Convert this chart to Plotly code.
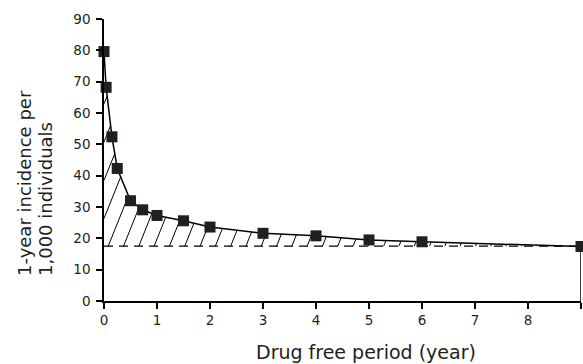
import numpy as np
import plotly.graph_objects as go

# Data
years = [0, 0.04, 0.15, 0.25, 0.5, 0.73, 1.0, 1.5, 2.0, 3.0, 4.0, 5.0, 6.0, 9.0]
incidence = [79.6, 68.2, 52.4, 42.3, 32.0, 29.1, 27.3, 25.6, 23.6, 21.6, 20.8, 19.5, 18.9, 17.4]
baseline_value = 17.5
x_ticks = [0, 1, 2, 3, 4, 5, 6, 7, 8, 9]
y_ticks = [0, 10, 20, 30, 40, 50, 60, 70, 80, 90]
x_title = "Drug free period (year)"
y_title_lines = ["1-year incidence per", "1,000 individuals"]

W, H = 583, 364
PLOT_L, PLOT_R, PLOT_T, PLOT_B = 104, 581, 19, 301   # plot area, pixels
ML, MT = PLOT_L, PLOT_T
MR = W - PLOT_R
MB = H - PLOT_B
pw, ph = W - ML - MR, H - MT - MB
px_per_x = pw / 9.0
px_per_y = ph / 90.0

# Hatch lines between curve and baseline (decoration derived from data)
slope_px = 2.5
k = slope_px * px_per_x / px_per_y
spacing = 15.3 / px_per_x
phase = 0.08
hx, hy = [], []
x0 = phase - spacing * 10
while x0 < 9:
    xs_start = max(x0, 0.0)
    ys_start = baseline_value + k * (xs_start - x0)
    if ys_start < np.interp(xs_start, years, incidence):
        xs = np.linspace(xs_start, min(9.0, xs_start + 90.0 / k), 3000)
        yl = baseline_value + k * (xs - x0)
        yc = np.interp(xs, years, incidence)
        idx = np.argmax(yl >= yc)
        if yl[idx] >= yc[idx]:
            hx += [xs_start, xs[idx], None]
            hy += [ys_start, yc[idx], None]
    x0 += spacing

fig = go.Figure()
fig.add_trace(go.Scatter(x=hx, y=hy, mode="lines",
                         line=dict(color="black", width=1), hoverinfo="skip",
                         showlegend=False, cliponaxis=False))
fig.add_trace(go.Scatter(x=[0, 9], y=[baseline_value, baseline_value], mode="lines",
                         line=dict(color="black", width=1.2, dash="9px,6px"),
                         showlegend=False, cliponaxis=False))
fig.add_trace(go.Scatter(x=[years[-1], years[-1]], y=[0, incidence[-1]], mode="lines",
                         line=dict(color="black", width=1.5),
                         showlegend=False, cliponaxis=False))
fig.add_trace(go.Scatter(x=years, y=incidence, mode="lines+markers",
                         line=dict(color="black", width=1.5),
                         marker=dict(symbol="square", size=11, color="#231f20"),
                         showlegend=False, cliponaxis=False))

font = "DejaVu Sans, Open Sans, sans-serif"
tick_font = dict(size=13.5, family=font, color="#231f20")
axis_common = dict(showgrid=False, zeroline=False, showline=True, linecolor="black",
                   linewidth=1.5, ticks="outside", ticklen=6, tickwidth=1.5,
                   tickcolor="black", tickfont=tick_font)
fig.update_layout(
    width=W, height=H,
    margin=dict(l=ML, r=MR, t=MT, b=MB, pad=0),
    paper_bgcolor="white", plot_bgcolor="white",
    font=dict(family=font, color="#231f20", size=13),
    xaxis=dict(range=[0, 9], tickvals=x_ticks, **axis_common),
    yaxis=dict(range=[0, 90], tickvals=y_ticks, ticklabelstandoff=3, **axis_common),
    annotations=[
        dict(text=x_title, xref="paper", yref="paper",
             x=(365.5 - PLOT_L) / pw, y=(PLOT_B - 352) / ph, xanchor="center", yanchor="middle",
             showarrow=False, font=dict(size=19, family=font, color="#231f20")),
        dict(text=y_title_lines[0], xref="paper", yref="paper",
             x=(24 - PLOT_L) / pw, y=(PLOT_B - 278) / ph, xanchor="center", yanchor="bottom",
             textangle=-90, showarrow=False, font=dict(size=18, family=font, color="#231f20")),
        dict(text=y_title_lines[1], xref="paper", yref="paper",
             x=(45 - PLOT_L) / pw, y=(PLOT_B - 278) / ph, xanchor="center", yanchor="bottom",
             textangle=-90, showarrow=False, font=dict(size=18, family=font, color="#231f20")),
    ],
)

fig.write_html("out.html", config={"displayModeBar": False},
               post_script="document.body.style.margin='0';document.body.style.overflow='hidden';")
